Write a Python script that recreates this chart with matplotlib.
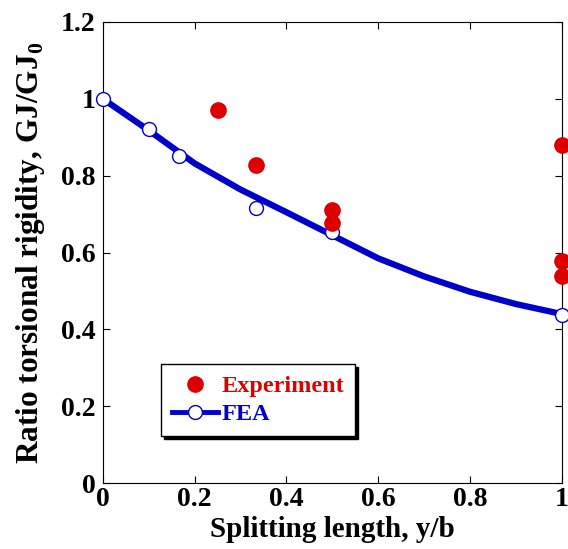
import matplotlib
matplotlib.use('Agg')
import matplotlib.pyplot as plt
from matplotlib.lines import Line2D

plt.rcParams['font.family'] = ['Liberation Serif', 'DejaVu Serif']
plt.rcParams['font.weight'] = 'bold'
plt.rcParams['mathtext.fontset'] = 'custom'
plt.rcParams['mathtext.bf'] = 'Liberation Serif:bold'

# experiment points
exp_x = [0.25, 0.333, 0.5, 0.5, 1.0, 1.0, 1.0]
exp_y = [0.97, 0.828, 0.711, 0.677, 0.880, 0.578, 0.539]

# FEA points
fea_x = [0.0, 0.1, 0.167, 0.333, 0.5, 1.0]
fea_y = [1.0, 0.921, 0.851, 0.716, 0.653, 0.437]

# FEA fitted curve
fit_x = [0.0, 0.1, 0.2, 0.3, 0.4, 0.5, 0.6, 0.7, 0.8, 0.9, 1.0]
fit_y = [1.0, 0.918, 0.832, 0.764, 0.705, 0.645, 0.585, 0.538, 0.498, 0.466, 0.44]

red = '#DD0000'
blue = '#0000CC'

fig = plt.figure(figsize=(5.68, 5.49), dpi=100)
ax = fig.add_axes([0.181, 0.120, 0.808, 0.840])

ax.plot(fit_x, fit_y, color=blue, lw=4.5, solid_capstyle='butt', zorder=2)
ax.plot(fea_x, fea_y, 'o', ms=10, mfc='white', mec=blue, mew=1.0, clip_on=False, zorder=3)
ax.plot(exp_x, exp_y, 'o', ms=11, color=red, mec=red, clip_on=False, zorder=4)

ax.set_xlim(0, 1)
ax.set_ylim(0, 1.2)
ax.set_xticks([0, 0.2, 0.4, 0.6, 0.8, 1])
ax.set_xticklabels(['0', '0.2', '0.4', '0.6', '0.8', '1'])
ax.set_yticks([0, 0.2, 0.4, 0.6, 0.8, 1, 1.2])
ax.set_yticklabels(['0', '0.2', '0.4', '0.6', '0.8', '1', '1.2'])
ax.tick_params(direction='in', top=True, right=True, length=5, width=0.8,
               labelsize=20, pad=5)
ax.tick_params(axis='x', pad=3)
for s in ax.spines.values():
    s.set_linewidth(0.8)

ax.set_xlabel('Splitting length, y/b', fontsize=21, fontweight='bold', labelpad=3)
ax.set_ylabel('Ratio torsional rigidity, GJ/GJ$_\\mathbf{0}$', fontsize=22.5,
              fontweight='bold', labelpad=10)

handles = [Line2D([], [], ls='none', marker='o', ms=11, color=red),
           Line2D([], [], color=blue, lw=3.5, marker='o', ms=10, mfc='white', mec=blue, mew=1.0)]
leg = ax.legend(handles, ['Experiment', 'FEA'], loc='lower left',
                bbox_to_anchor=(0.10, 0.075), fancybox=False, edgecolor='black',
                shadow={'color': 'black', 'alpha': 1}, framealpha=1,
                prop={'size': 17.5, 'weight': 'bold'}, handlelength=1.9,
                borderpad=0.45, labelspacing=0.25, handletextpad=0.15)
leg.get_frame().set_linewidth(1.0)
for t, c in zip(leg.get_texts(), [red, blue]):
    t.set_color(c)

fig.savefig('out.png', dpi=100)
